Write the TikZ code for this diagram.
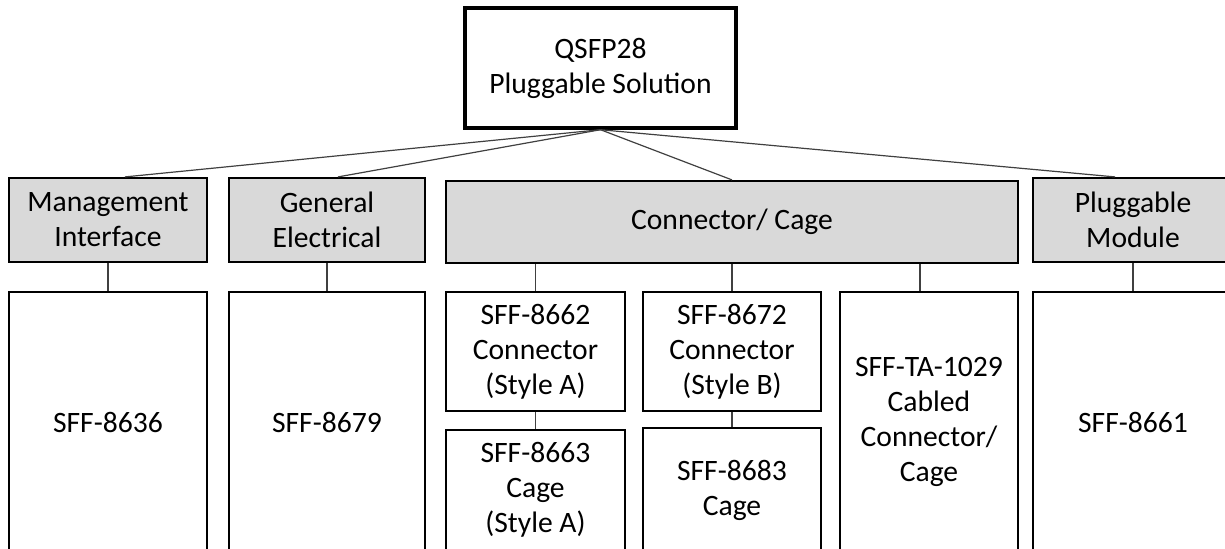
\documentclass[tikz,border=0pt]{standalone}
\usepackage{fontspec}
\setmainfont{Carlito}
\begin{document}
\begin{tikzpicture}[x=0.5pt, y=-0.5pt, align=center, font=\fontsize{14.8}{17.5}\selectfont]
\tikzstyle{v} = [draw=black, line width=1.1pt, inner sep=0pt, fill=white]
\tikzstyle{g} = [v, fill=black!15]
\tikzstyle{e} = [draw=black!75, line width=0.6pt]

\useasboundingbox (0, 0) rectangle (1225, 548);

\node[v, line width=1.7pt, minimum width=135.5pt, minimum height=60pt] (root) at (600.5, 68) {QSFP28\\Pluggable Solution};

\node[g, minimum width=99pt, minimum height=42pt] (mgmt) at (108, 220) {Management\\Interface};
\node[g, minimum width=98pt, minimum height=42pt] (gen) at (327, 220) {General\\Electrical};
\node[g, minimum width=286pt, minimum height=41pt] (cc) at (732, 222) {Connector/ Cage};
\node[g, minimum width=100pt, minimum height=42pt] (plug) at (1133, 220) {Pluggable\\Module};

\node[v, minimum width=99pt, minimum height=130pt] (s8636) at (108, 422) {SFF-8636};
\node[v, minimum width=98pt, minimum height=130pt] (s8679) at (327, 422) {SFF-8679};
\node[v, minimum width=89.5pt, minimum height=59.5pt] (s8662) at (535.5, 351.5) {SFF-8662\\Connector\\(Style A)};
\node[v, minimum width=89.5pt, minimum height=60pt] (s8663) at (535.5, 490) {SFF-8663\\Cage\\(Style A)};
\node[v, minimum width=89pt, minimum height=59.5pt] (s8672) at (732, 351.5) {SFF-8672\\Connector\\(Style B)};
\node[v, minimum width=89pt, minimum height=62pt] (s8683) at (732, 490) {SFF-8683\\Cage};
\node[v, minimum width=89pt, minimum height=130pt] (s1029) at (929, 422) {SFF-TA-1029\\Cabled\\Connector/\\Cage};
\node[v, minimum width=100pt, minimum height=130pt] (s8661) at (1133, 422) {SFF-8661};

\draw[e] (root.south) to ([xshift=8.5pt]mgmt.north);
\draw[e] (root.south) to ([xshift=5.5pt]gen.north);
\draw[e] (root.south) to (cc.north);
\draw[e] (root.south) to ([xshift=-9pt]plug.north);

\draw[e] (mgmt) to (s8636);
\draw[e] (gen) to (s8679);
\draw[e] (cc.south -| s8662.north) to (s8662.north);
\draw[e] (cc.south -| s8672.north) to (s8672.north);
\draw[e] ([xshift=-4.5pt]cc.south -| s1029.north) to ([xshift=-4.5pt]s1029.north);
\draw[e] (plug) to (s8661);
\draw[e] (s8662) to (s8663);
\draw[e] (s8672) to (s8683);
\end{tikzpicture}
\end{document}
